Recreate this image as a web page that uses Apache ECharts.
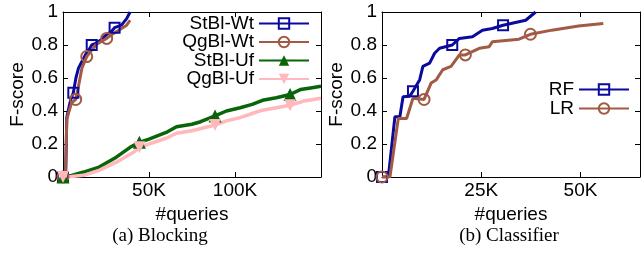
<!DOCTYPE html>
<html><head><meta charset="utf-8">
<script src="https://cdn.jsdelivr.net/npm/echarts@6/dist/echarts.min.js"></script>
<style>html,body{margin:0;padding:0;background:#fff}#c{width:644px;height:256px}</style>
</head><body><div id="c"></div>
<script>
// ---- Data (x in thousands of queries, y = F-score) ----
const stblWtX = [0, 1.5, 2.2, 3, 4.5, 6, 7.5, 9, 11, 13, 15, 16.7, 19, 22, 25, 28, 30, 34, 37, 39];
const stblWtY = [0, 0, 0.36, 0.40, 0.47, 0.51, 0.60, 0.66, 0.70, 0.74, 0.77, 0.80, 0.81, 0.83, 0.86, 0.88, 0.905, 0.92, 0.96, 1.0];
const stblWtMarks = [0, 5, 11, 16];

const qgblWtX = [0, 1.5, 2.2, 3, 5, 7.4, 9, 11, 13.8, 16, 19, 22, 25.4, 28, 31, 34, 37, 39];
const qgblWtY = [0, 0, 0.35, 0.38, 0.45, 0.47, 0.55, 0.66, 0.73, 0.76, 0.80, 0.82, 0.84, 0.86, 0.88, 0.90, 0.92, 0.95];
const qgblWtMarks = [0, 5, 8, 12];

const stblUfX = [0, 5, 12, 21, 31, 39, 44.4, 50, 60, 66, 75, 80, 88.4, 95, 103, 110, 116, 124, 132, 138, 144, 150];
const stblUfY = [0, 0.01, 0.03, 0.06, 0.12, 0.18, 0.21, 0.23, 0.27, 0.305, 0.32, 0.335, 0.37, 0.40, 0.42, 0.44, 0.465, 0.48, 0.50, 0.53, 0.54, 0.55];
const stblUfMarks = [0, 6, 12, 18];

const qgblUfX = [0, 5, 12, 21, 31, 41, 44.4, 50, 60, 66, 75, 88.4, 95, 103, 110, 116, 124, 132, 140, 150];
const qgblUfY = [0, 0.003, 0.01, 0.04, 0.09, 0.15, 0.18, 0.20, 0.235, 0.265, 0.28, 0.315, 0.34, 0.36, 0.385, 0.405, 0.42, 0.435, 0.46, 0.477];
const qgblUfMarks = [0, 6, 11, 17];

const rfX = [0, 1.6, 3.25, 4.5, 5.3, 7, 7.8, 9.5, 10.3, 12, 13.25, 14.5, 17.7, 19.5, 22.8, 25.3, 27.8, 30.5, 36.2, 38.7];
const rfY = [0, 0, 0.365, 0.365, 0.487, 0.49, 0.52, 0.59, 0.67, 0.69, 0.75, 0.78, 0.80, 0.84, 0.85, 0.89, 0.90, 0.92, 0.95, 1.0];
const rfMarks = [0, 6, 12, 17];

const lrX = [0, 2, 4.1, 6.2, 7.8, 10.6, 12.4, 13.7, 15.3, 17.4, 19.5, 21, 24.5, 27, 27.8, 34.5, 37.4, 42.8, 49.5, 55.75];
const lrY = [0, 0, 0.355, 0.355, 0.477, 0.47, 0.57, 0.59, 0.65, 0.67, 0.74, 0.74, 0.78, 0.79, 0.82, 0.835, 0.865, 0.89, 0.915, 0.93];
const lrMarks = [0, 5, 11, 16];

const leftNames = ['StBl-Wt', 'QgBl-Wt', 'StBl-Uf', 'QgBl-Uf'];
const rightNames = ['RF', 'LR'];
const yTicks = [0, 0.2, 0.4, 0.6, 0.8, 1];
const captions = ['(a) Blocking', '(b) Classifier'];

// ---- Build ----
const FONT = 'Liberation Sans';
function pts(xs, ys, marks) {
  return xs.map((x, i) => marks.indexOf(i) >= 0 ? [x, ys[i]] : {value: [x, ys[i]], symbol: 'none'});
}
const BLUE = '#0a0a9e', BROWN = '#a25a45', GREEN = '#0a640a', PINK = '#ffb8bc';

function axesFor(gi, max, interval) {
  const common = {
    gridIndex: gi, min: 0, max: max, interval: interval,
    axisLine: {show: true, onZero: false, lineStyle: {color: '#000', width: 1}},
    axisTick: {show: true, inside: true, length: 5, lineStyle: {color: '#000', width: 1}},
    splitLine: {show: false}
  };
  const x1 = Object.assign({}, common, {
    type: 'value', position: 'bottom',
    name: '#queries', nameLocation: 'middle', nameGap: 23,
    nameTextStyle: {fontFamily: FONT, fontSize: 19, color: '#000'},
    axisLabel: {show: true, margin: 4, fontFamily: FONT, fontSize: 19, color: '#000',
      showMinLabel: false, showMaxLabel: false, formatter: v => v + 'K'}
  });
  const x2 = Object.assign({}, common, {type: 'value', position: 'top', axisLabel: {show: false}});
  const yc = Object.assign({}, common, {min: yTicks[0], max: yTicks[yTicks.length - 1], interval: 0.2});
  const y1 = Object.assign({}, yc, {
    type: 'value', position: 'left',
    name: 'F-score', nameLocation: 'middle', nameGap: 33, nameRotate: 90,
    nameTextStyle: {fontFamily: FONT, fontSize: 19, color: '#000'},
    axisLabel: {show: true, margin: 5, fontFamily: FONT, fontSize: 19, color: '#000'}
  });
  const y2 = Object.assign({}, yc, {type: 'value', position: 'right', axisLabel: {show: false}});
  return {x: [x1, x2], y: [y1, y2]};
}
const a0 = axesFor(0, 150, 50);
const a1 = axesFor(1, 65, 25);

function lineSeries(name, xi, yi, data, color, lw, symbol, size, hollow, rotate) {
  return {
    name: name, type: 'line', xAxisIndex: xi, yAxisIndex: yi, data: data,
    symbol: symbol, symbolSize: size, symbolRotate: rotate || 0, showSymbol: true,
    lineStyle: {color: color, width: lw},
    itemStyle: hollow ? {color: 'rgba(0,0,0,0)', borderColor: color, borderWidth: 2}
                      : {color: color, borderWidth: 0},
    emphasis: {disabled: true}, animation: false, clip: true
  };
}

const option = {
  animation: false,
  grid: [
    {left: 63, top: 12, width: 258, height: 165},
    {left: 382, top: 12, width: 258, height: 165}
  ],
  xAxis: [a0.x[0], a0.x[1], a1.x[0], a1.x[1]],
  yAxis: [a0.y[0], a0.y[1], a1.y[0], a1.y[1]],
  legend: [
    {data: leftNames, orient: 'vertical', align: 'right', right: 334, top: 14, padding: 0,
     itemWidth: 50, itemHeight: 13, itemGap: -0.5, selectedMode: false,
     textStyle: {fontFamily: FONT, fontSize: 19, color: '#000'}},
    {data: rightNames, orient: 'vertical', align: 'right', right: 14, top: 80, padding: 0,
     itemWidth: 50, itemHeight: 13, itemGap: 0, selectedMode: false,
     textStyle: {fontFamily: FONT, fontSize: 19, color: '#000'}}
  ],
  series: [
    lineSeries(leftNames[0], 0, 0, pts(stblWtX, stblWtY, stblWtMarks), BLUE, 3, 'rect', 10, true),
    lineSeries(leftNames[1], 0, 0, pts(qgblWtX, qgblWtY, qgblWtMarks), BROWN, 3, 'circle', 11, true),
    lineSeries(leftNames[2], 0, 0, pts(stblUfX, stblUfY, stblUfMarks), GREEN, 3.5, 'triangle', 13, false),
    lineSeries(leftNames[3], 0, 0, pts(qgblUfX, qgblUfY, qgblUfMarks), PINK, 3.5, 'triangle', 12, false, 180),
    lineSeries(rightNames[0], 2, 2, pts(rfX, rfY, rfMarks), BLUE, 3, 'rect', 10, true),
    lineSeries(rightNames[1], 2, 2, pts(lrX, lrY, lrMarks), BROWN, 3, 'circle', 11, true)
  ],
  graphic: [
    {type: 'text', x: 160, y: 236, style: {text: captions[0], font: '19px "Liberation Serif"', fill: '#000', align: 'center', verticalAlign: 'middle'}},
    {type: 'text', x: 509, y: 236, style: {text: captions[1], font: '19px "Liberation Serif"', fill: '#000', align: 'center', verticalAlign: 'middle'}}
  ]
};
const chart = echarts.init(document.getElementById('c'), null, {renderer: 'canvas'});
chart.setOption(option);
</script></body></html>
